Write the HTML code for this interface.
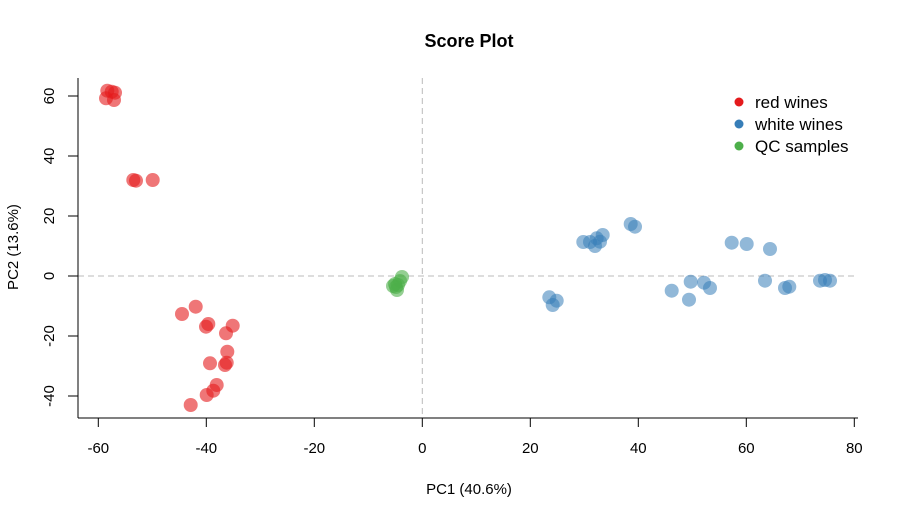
<!DOCTYPE html>
<html><head><style>body{margin:0;background:#fff}svg{display:block}</style></head><body>
<svg width="900" height="516" xmlns="http://www.w3.org/2000/svg" font-family="Liberation Sans, Arial, sans-serif">
<rect width="900" height="516" fill="#fff"/>
<text x="469" y="47" text-anchor="middle" font-size="18" font-weight="bold">Score Plot</text>
<line x1="78" y1="276" x2="858" y2="276" stroke="#bbb" stroke-dasharray="6,4"/>
<line x1="422.3" y1="78" x2="422.3" y2="418" stroke="#bbb" stroke-dasharray="6,4"/>
<g stroke="#000" stroke-width="1">
<line x1="78" y1="78" x2="78" y2="418"/>
<line x1="78" y1="418" x2="858" y2="418"/>
<line x1="68" y1="96" x2="78" y2="96"/><line x1="68" y1="156" x2="78" y2="156"/><line x1="68" y1="216" x2="78" y2="216"/><line x1="68" y1="276" x2="78" y2="276"/><line x1="68" y1="336" x2="78" y2="336"/><line x1="68" y1="396" x2="78" y2="396"/>
<line x1="98.3" y1="418" x2="98.3" y2="427"/><line x1="206.3" y1="418" x2="206.3" y2="427"/><line x1="314.3" y1="418" x2="314.3" y2="427"/><line x1="422.3" y1="418" x2="422.3" y2="427"/><line x1="530.3" y1="418" x2="530.3" y2="427"/><line x1="638.3" y1="418" x2="638.3" y2="427"/><line x1="746.3" y1="418" x2="746.3" y2="427"/><line x1="854.3" y1="418" x2="854.3" y2="427"/>
</g>
<g font-size="15" text-anchor="middle">
<text x="98.3" y="453">-60</text><text x="206.3" y="453">-40</text><text x="314.3" y="453">-20</text><text x="422.3" y="453">0</text><text x="530.3" y="453">20</text><text x="638.3" y="453">40</text><text x="746.3" y="453">60</text><text x="854.3" y="453">80</text>
<g transform="translate(54,0)">
<text transform="translate(0,96) rotate(-90)">60</text><text transform="translate(0,156) rotate(-90)">40</text><text transform="translate(0,216) rotate(-90)">20</text><text transform="translate(0,276) rotate(-90)">0</text><text transform="translate(0,336) rotate(-90)">-20</text><text transform="translate(0,396) rotate(-90)">-40</text>
</g>
<text x="469" y="494">PC1 (40.6%)</text>
<text transform="translate(18,247) rotate(-90)">PC2 (13.6%)</text>
</g>
<g fill="#E41A1C" fill-opacity="0.6">
<circle cx="107.3" cy="90.7" r="7"/><circle cx="111.7" cy="91.7" r="7"/><circle cx="115" cy="92.7" r="7"/><circle cx="106" cy="98.3" r="7"/><circle cx="114" cy="100" r="7"/>
<circle cx="133.3" cy="180" r="7"/><circle cx="136" cy="180.7" r="7"/><circle cx="152.7" cy="180" r="7"/>
<circle cx="182" cy="314" r="7"/><circle cx="195.7" cy="306.7" r="7"/><circle cx="208.3" cy="324" r="7"/><circle cx="206" cy="326.7" r="7"/><circle cx="232.7" cy="325.7" r="7"/><circle cx="226" cy="333.3" r="7"/><circle cx="227.3" cy="351.7" r="7"/><circle cx="210" cy="363.3" r="7"/><circle cx="226.7" cy="362.7" r="7"/><circle cx="225" cy="365" r="7"/><circle cx="216.7" cy="385" r="7"/><circle cx="213.3" cy="390.7" r="7"/><circle cx="206.7" cy="395" r="7"/><circle cx="190.7" cy="405" r="7"/>
</g>
<g fill="#377EB8" fill-opacity="0.55">
<circle cx="630.7" cy="224" r="7"/><circle cx="635" cy="226.7" r="7"/><circle cx="583.3" cy="242" r="7"/><circle cx="590" cy="242" r="7"/><circle cx="596.7" cy="238.3" r="7"/><circle cx="602.7" cy="235" r="7"/><circle cx="595" cy="246" r="7"/><circle cx="600" cy="241.7" r="7"/>
<circle cx="731.7" cy="242.7" r="7"/><circle cx="746.7" cy="244" r="7"/><circle cx="770" cy="249" r="7"/>
<circle cx="549.3" cy="297.3" r="7"/><circle cx="556.7" cy="300.7" r="7"/><circle cx="552.7" cy="305" r="7"/>
<circle cx="671.7" cy="290.7" r="7"/><circle cx="690.7" cy="281.7" r="7"/><circle cx="689" cy="299.7" r="7"/><circle cx="704" cy="282.7" r="7"/><circle cx="710" cy="288" r="7"/>
<circle cx="765" cy="280.7" r="7"/><circle cx="785" cy="288" r="7"/><circle cx="789.3" cy="286.7" r="7"/>
<circle cx="820" cy="280.7" r="7"/><circle cx="825" cy="280" r="7"/><circle cx="830" cy="280.7" r="7"/>
</g>
<g fill="#4DAF4A" fill-opacity="0.6">
<circle cx="393" cy="286" r="7"/><circle cx="396" cy="287" r="7"/><circle cx="398" cy="285" r="7"/><circle cx="400" cy="281" r="7"/><circle cx="402" cy="277" r="7"/><circle cx="397" cy="290" r="7"/><circle cx="395" cy="284" r="7"/>
</g>
<g font-size="17">
<circle cx="739" cy="102" r="4.5" fill="#E41A1C"/><text x="755" y="108">red wines</text>
<circle cx="739" cy="124" r="4.5" fill="#377EB8"/><text x="755" y="130">white wines</text>
<circle cx="739" cy="146" r="4.5" fill="#4DAF4A"/><text x="755" y="152">QC samples</text>
</g>
</svg>
</body></html>
